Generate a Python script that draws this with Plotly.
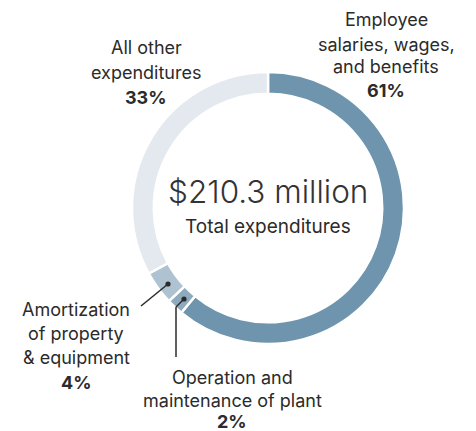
import plotly.graph_objects as go

categories = ["Employee salaries, wages, and benefits", "Operation and maintenance of plant",
              "Amortization of property & equipment", "All other expenditures"]
values = [61, 2, 4, 33]
colors = ["#6e95ad", "#8eaabd", "#aec2d1", "#e3e9ee"]
total_label = "$210.3 million"
total_sub = "Total expenditures"

W, H = 476, 431
OFF = 8  # page body margin
def px(x): return (x - OFF) / W
def py(y): return 1 - (y - OFF) / H

R = 136
CX, CY = 268, 208
fig = go.Figure(go.Pie(
    labels=categories, values=values, sort=False, direction="clockwise", rotation=0,
    hole=0.84, marker=dict(colors=colors, line=dict(color="white", width=2.5)),
    textinfo="none", hoverinfo="label+percent", showlegend=False,
    domain=dict(x=[px(CX - R), px(CX + R)], y=[py(CY + R), py(CY - R)])
))

font = "Inter, 'Open Sans', sans-serif"
txt = "#2b2b2b"
ann = []
def lines(x, ys, texts, bold_last=True, size=18):
    for i, (y, t) in enumerate(zip(ys, texts)):
        ann.append(dict(x=px(x), y=py(y), xref="paper", yref="paper", text=t, showarrow=False,
                        xanchor="center", yanchor="middle",
                        font=dict(family=font, size=size, color=txt,
                                  weight=700 if (bold_last and i == len(texts) - 1) else 400)))

lines(386, [20, 44, 67, 90], ["Employee", "salaries, wages,", "and benefits", f"{values[0]}%"])
lines(146, [47, 72, 97], ["All other", "expenditures", f"{values[3]}%"])
lines(76, [309, 333, 357, 382], ["Amortization", "of property", "&amp; equipment", f"{values[2]}%"])
lines(232, [377, 400, 421], ["Operation and", "maintenance of plant", f"{values[1]}%"])

ann.append(dict(x=px(268), y=py(213), xref="paper", yref="paper", text=total_label, showarrow=False,
                xanchor="center", yanchor="bottom",
                font=dict(family=font, size=31.5, color="#333333", weight=300)))
ann.append(dict(x=px(268), y=py(213), xref="paper", yref="paper", text=total_sub, showarrow=False,
                xanchor="center", yanchor="top",
                font=dict(family=font, size=19, color=txt)))

shapes = []
lc = "#2b2b2b"
def seg(x0, y0, x1, y1):
    shapes.append(dict(type="line", xref="paper", yref="paper", x0=px(x0), y0=py(y0), x1=px(x1), y1=py(y1),
                       line=dict(color=lc, width=1.5)))
def dot(x, y, r=2.6):
    shapes.append(dict(type="circle", xref="paper", yref="paper", x0=px(x - r), x1=px(x + r),
                       y0=py(y + r), y1=py(y - r), fillcolor=lc, line=dict(width=0)))

seg(168, 284, 141, 306); dot(168, 284)
seg(184, 299, 176, 307); seg(176, 307, 176, 357); dot(184, 299)

fig.update_layout(width=W, height=H, margin=dict(l=0, r=0, t=0, b=0),
                  paper_bgcolor="white", plot_bgcolor="white",
                  annotations=ann, shapes=shapes)
fig.write_html("out.html")
